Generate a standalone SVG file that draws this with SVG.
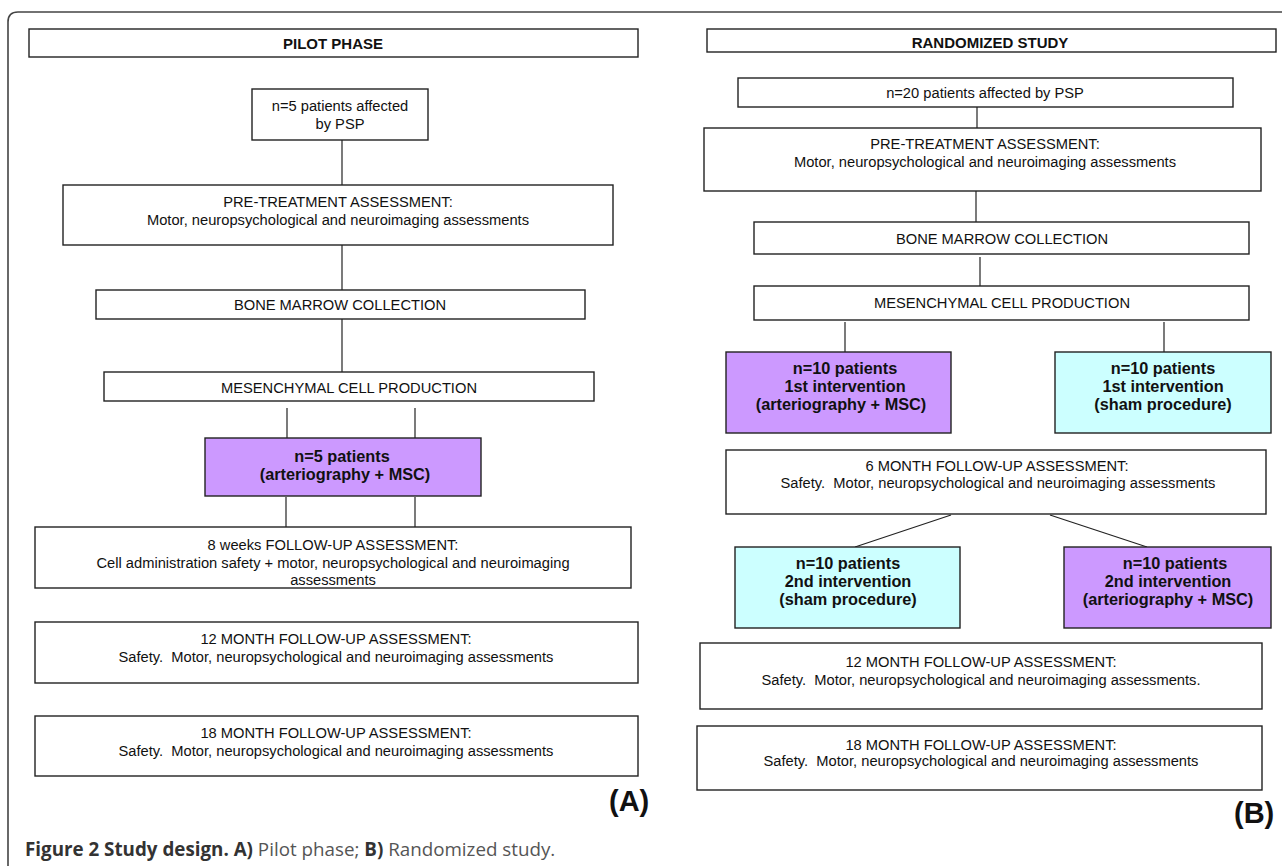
<svg xmlns="http://www.w3.org/2000/svg" width="1282" height="866" viewBox="0 0 1282 866">
<style>
.box{fill:#fff;stroke:#222;stroke-width:1.4}
.pur{fill:#CC99FF;stroke:#222;stroke-width:1.4}
.cyn{fill:#CCFFFF;stroke:#222;stroke-width:1.4}
.t{font-family:"Liberation Sans",Arial,sans-serif;font-size:14.7px;fill:#111;text-anchor:middle;white-space:pre}
.b{font-family:"Liberation Sans",Arial,sans-serif;font-size:16.3px;font-weight:bold;fill:#111;text-anchor:middle}
.h{font-family:"Liberation Sans",Arial,sans-serif;font-size:15px;font-weight:bold;fill:#111;text-anchor:middle}
.lbl{font-family:"Liberation Sans",Arial,sans-serif;font-size:29px;font-weight:bold;fill:#111}
.cap{font-family:"Open Sans","Liberation Sans",sans-serif;font-size:18.8px;fill:#555}
.capb{font-weight:bold;fill:#333}
.c{stroke:#222;stroke-width:1.2;fill:none}
</style>
<path d="M8,866 V22 Q8,12 18,12 H1282" fill="none" stroke="#444" stroke-width="1.6"/>
<g id="connectors">
<line class="c" x1="342" y1="140" x2="342" y2="185"/>
<line class="c" x1="342" y1="245" x2="342" y2="290"/>
<line class="c" x1="342" y1="319" x2="342" y2="372"/>
<line class="c" x1="287" y1="408" x2="287" y2="438"/>
<line class="c" x1="415" y1="408" x2="415" y2="438"/>
<line class="c" x1="286" y1="497" x2="286" y2="527"/>
<line class="c" x1="415" y1="497" x2="415" y2="527"/>
<line class="c" x1="977" y1="107" x2="977" y2="128"/>
<line class="c" x1="976" y1="191" x2="976" y2="222"/>
<line class="c" x1="980" y1="257" x2="980" y2="286"/>
<line class="c" x1="845" y1="322" x2="845" y2="352"/>
<line class="c" x1="1164" y1="322" x2="1164" y2="352"/>
<line class="c" x1="951" y1="515" x2="855" y2="547"/>
<line class="c" x1="1050" y1="515" x2="1147" y2="547"/>
</g>
<g id="pilot-title"><rect class="box" x="29" y="29" width="609" height="28"/><text class="h" x="333" y="49">PILOT PHASE</text></g>
<g id="a-n5"><rect class="box" x="252" y="89" width="176" height="51"/><text class="t" x="340" y="111">n=5 patients affected</text><text class="t" x="340" y="129">by PSP</text></g>
<g id="a-pre"><rect class="box" x="63" y="185" width="550" height="60"/><text class="t" x="338" y="207">PRE-TREATMENT ASSESSMENT:</text><text class="t" x="338" y="225">Motor, neuropsychological and neuroimaging assessments</text></g>
<g id="a-bone"><rect class="box" x="96" y="290" width="489" height="29"/><text class="t" x="340" y="310">BONE MARROW COLLECTION</text></g>
<g id="a-mes"><rect class="box" x="104" y="372" width="490" height="29"/><text class="t" x="349" y="393">MESENCHYMAL CELL PRODUCTION</text></g>
<g id="a-int"><rect class="pur" x="205" y="438" width="276" height="58"/><text class="b" x="342" y="462">n=5 patients</text><text class="b" x="345" y="480">(arteriography + MSC)</text></g>
<g id="a-8w"><rect class="box" x="35" y="527" width="596" height="61"/><text class="t" x="333" y="550">8 weeks FOLLOW-UP ASSESSMENT:</text><text class="t" x="333" y="568">Cell administration safety + motor, neuropsychological and neuroimaging</text><text class="t" x="333" y="585">assessments</text></g>
<g id="a-12m"><rect class="box" x="35" y="622" width="603" height="61"/><text class="t" x="336" y="644">12 MONTH FOLLOW-UP ASSESSMENT:</text><text class="t" x="336" y="662">Safety.  Motor, neuropsychological and neuroimaging assessments</text></g>
<g id="a-18m"><rect class="box" x="35" y="716" width="603" height="60"/><text class="t" x="336" y="738">18 MONTH FOLLOW-UP ASSESSMENT:</text><text class="t" x="336" y="756">Safety.  Motor, neuropsychological and neuroimaging assessments</text></g>
<text class="lbl" x="609" y="811">(A)</text>

<g id="rand-title"><rect class="box" x="707" y="29" width="569" height="23"/><text class="h" x="990" y="48">RANDOMIZED STUDY</text></g>
<g id="b-n20"><rect class="box" x="738" y="78" width="495" height="29"/><text class="t" x="985" y="98">n=20 patients affected by PSP</text></g>
<g id="b-pre"><rect class="box" x="704" y="128" width="557" height="63"/><text class="t" x="985" y="149">PRE-TREATMENT ASSESSMENT:</text><text class="t" x="985" y="167">Motor, neuropsychological and neuroimaging assessments</text></g>
<g id="b-bone"><rect class="box" x="754" y="222" width="495" height="32"/><text class="t" x="1002" y="244">BONE MARROW COLLECTION</text></g>
<g id="b-mes"><rect class="box" x="754" y="286" width="495" height="34"/><text class="t" x="1002" y="308">MESENCHYMAL CELL PRODUCTION</text></g>
<g id="b-int1a"><rect class="pur" x="726" y="352" width="225" height="81"/><text class="b" x="845" y="374">n=10 patients</text><text class="b" x="845" y="392">1st intervention</text><text class="b" x="841" y="410">(arteriography + MSC)</text></g>
<g id="b-int1s"><rect class="cyn" x="1055" y="352" width="216" height="81"/><text class="b" x="1163" y="374">n=10 patients</text><text class="b" x="1163" y="392">1st intervention</text><text class="b" x="1163" y="410">(sham procedure)</text></g>
<g id="b-6m"><rect class="box" x="726" y="450" width="540" height="64"/><text class="t" x="997" y="471">6 MONTH FOLLOW-UP ASSESSMENT:</text><text class="t" x="998" y="488">Safety.  Motor, neuropsychological and neuroimaging assessments</text></g>
<g id="b-int2s"><rect class="cyn" x="735" y="547" width="225" height="81"/><text class="b" x="848" y="569">n=10 patients</text><text class="b" x="848" y="587">2nd intervention</text><text class="b" x="848" y="605">(sham procedure)</text></g>
<g id="b-int2a"><rect class="pur" x="1064" y="547" width="207" height="81"/><text class="b" x="1175" y="569">n=10 patients</text><text class="b" x="1168" y="587">2nd intervention</text><text class="b" x="1168" y="605">(arteriography + MSC)</text></g>
<g id="b-12m"><rect class="box" x="700" y="643" width="562" height="66"/><text class="t" x="981" y="667">12 MONTH FOLLOW-UP ASSESSMENT:</text><text class="t" x="981" y="685">Safety.  Motor, neuropsychological and neuroimaging assessments.</text></g>
<g id="b-18m"><rect class="box" x="697" y="726" width="565" height="64"/><text class="t" x="981" y="750">18 MONTH FOLLOW-UP ASSESSMENT:</text><text class="t" x="981" y="766">Safety.  Motor, neuropsychological and neuroimaging assessments</text></g>
<text class="lbl" x="1234" y="823">(B)</text>

<text class="cap" x="25" y="856" xml:space="preserve"><tspan class="capb">Figure 2 Study design. A)</tspan> Pilot phase; <tspan class="capb">B)</tspan> Randomized study.</text>
</svg>
